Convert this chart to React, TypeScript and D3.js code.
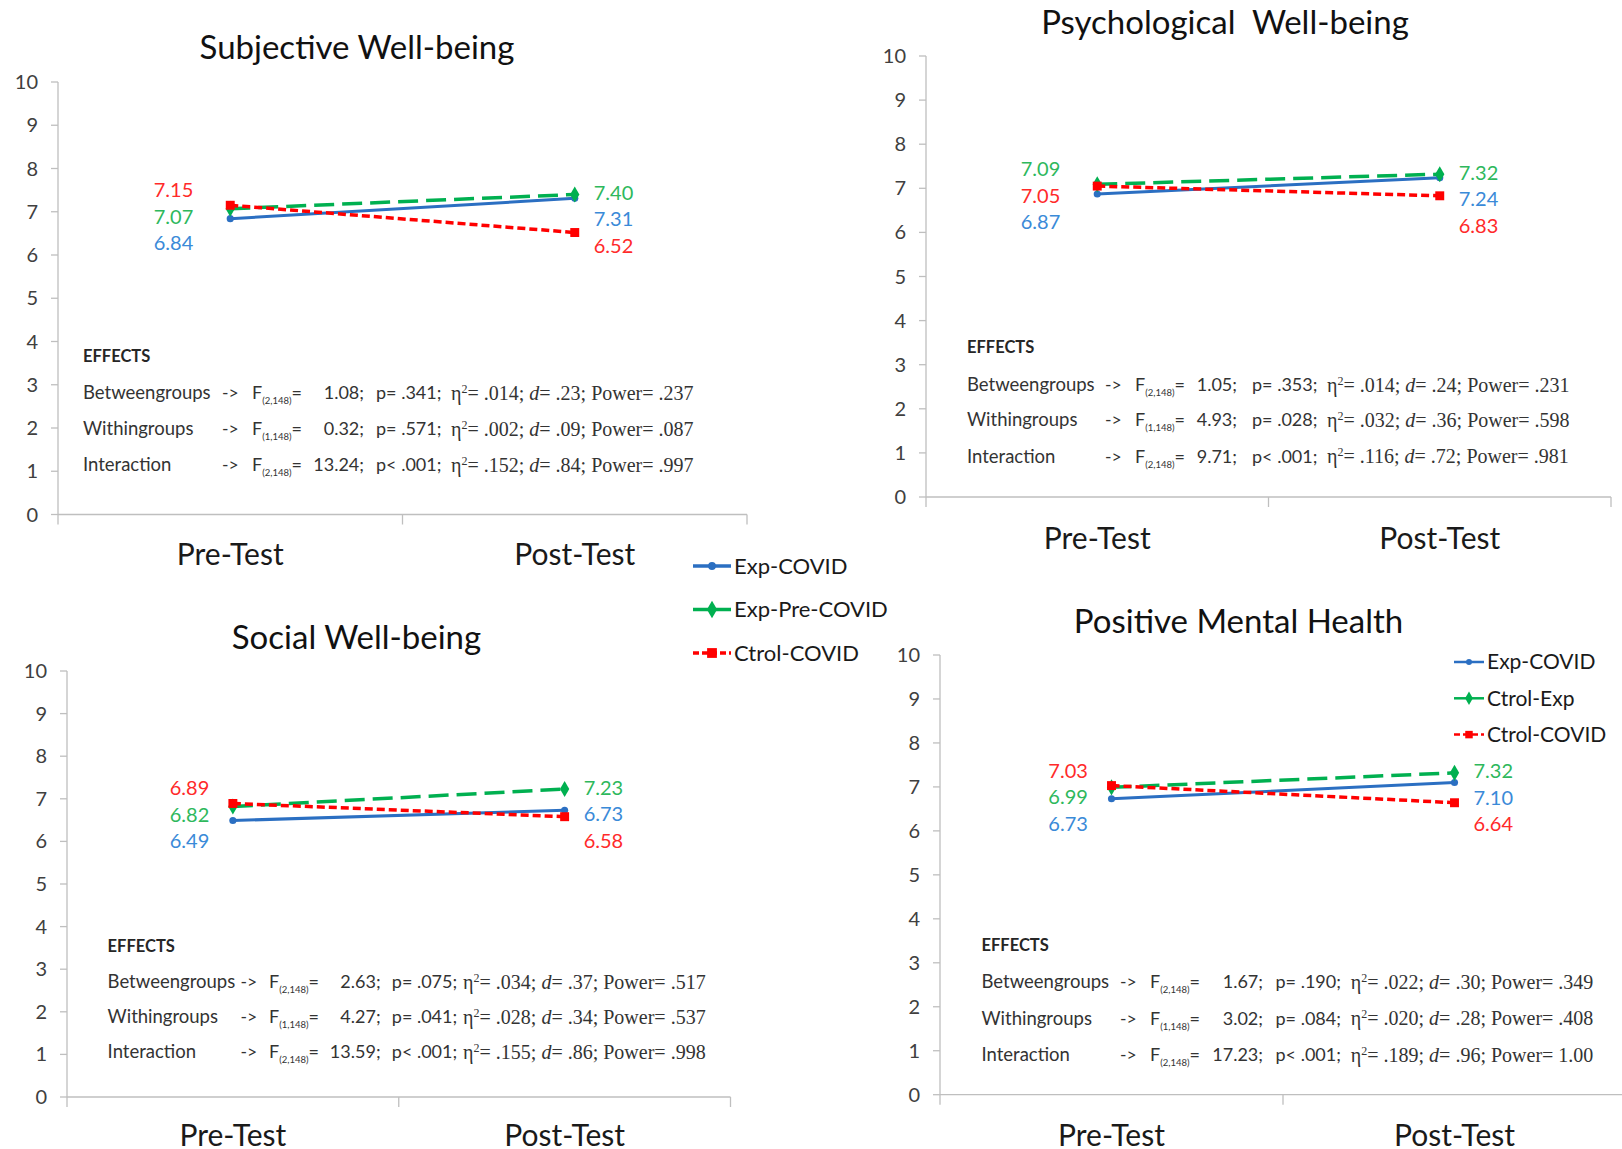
import React from 'react';
import * as d3 from 'd3';

const categories = ['Pre-Test', 'Post-Test'];
const legendNames = ['Exp-COVID', 'Exp-Pre-COVID', 'Ctrol-COVID'];
const pmhLegendNames = ['Exp-COVID', 'Ctrol-Exp', 'Ctrol-COVID'];

// rows = series (Exp-COVID, Exp/Ctrol, Ctrol-COVID), cols = Pre, Post
const subjectiveValues = [[6.84, 7.31], [7.07, 7.40], [7.15, 6.52]];
const psychologicalValues = [[6.87, 7.24], [7.09, 7.32], [7.05, 6.83]];
const socialValues = [[6.49, 6.73], [6.82, 7.23], [6.89, 6.58]];
const mentalHealthValues = [[6.73, 7.10], [6.99, 7.32], [7.03, 6.64]];

const effectNames = ['Betweengroups', 'Withingroups', 'Interaction'];
const effectDf = ['2,148', '1,148', '2,148'];
// F, p, eta2, d, power
const subjectiveEffects = [
  ['1.08', 'p= .341', '.014', '.23', '.237'],
  ['0.32', 'p= .571', '.002', '.09', '.087'],
  ['13.24', 'p< .001', '.152', '.84', '.997'],
];
const psychologicalEffects = [
  ['1.05', 'p= .353', '.014', '.24', '.231'],
  ['4.93', 'p= .028', '.032', '.36', '.598'],
  ['9.71', 'p< .001', '.116', '.72', '.981'],
];
const socialEffects = [
  ['2.63', 'p= .075', '.034', '.37', '.517'],
  ['4.27', 'p= .041', '.028', '.34', '.537'],
  ['13.59', 'p< .001', '.155', '.86', '.998'],
];
const mentalHealthEffects = [
  ['1.67', 'p= .190', '.022', '.30', '.349'],
  ['3.02', 'p= .084', '.020', '.28', '.408'],
  ['17.23', 'p< .001', '.189', '.96', '1.00'],
];

const SANS = 'Lato, Carlito, "Open Sans", sans-serif';
const SERIF = '"Liberation Serif", "DejaVu Serif", serif';

const seriesStyle = [
  { line: '#2B6FC2', label: '#3A8AD8', dash: undefined, width: 3, symbol: d3.symbolCircle, size: 40 },
  { line: '#00B050', label: '#2EB85C', dash: '20 8', width: 3.5, symbol: d3.symbolDiamond, size: 75 },
  { line: '#FF0000', label: '#FF2A2A', dash: '8 4', width: 3.5, symbol: d3.symbolSquare, size: 80 },
];

const charts = [
  {
    title: 'Subjective Well-being', values: subjectiveValues, effects: subjectiveEffects,
    left: 58, right: 747, y0: 514.5, y10: 82, titleX: 357, titleY: 59, catY: 565, labelGap: 37,
    effX: 83, effY: 356, rowY: [393, 428.6, 465], arrow: 139, fOff: 169, numEnd: 112, pOff: 124, etaOff: 199,
  },
  {
    title: 'Psychological\u00a0 Well-being', values: psychologicalValues, effects: psychologicalEffects,
    left: 926, right: 1611, y0: 497, y10: 56, titleX: 1225, titleY: 34, catY: 549, labelGap: 37,
    effX: 967, effY: 347, rowY: [384.6, 420, 456.4], arrow: 138, fOff: 168, numEnd: 102, pOff: 117, etaOff: 192,
  },
  {
    title: 'Social Well-being', values: socialValues, effects: socialEffects,
    left: 67, right: 730.5, y0: 1097, y10: 671, titleX: 356.5, titleY: 649, catY: 1146, labelGap: 23.6,
    effX: 107.6, effY: 946, rowY: [981.6, 1016.7, 1051.7], arrow: 133, fOff: 161.5, numEnd: 111.5, pOff: 122.7, etaOff: 194,
  },
  {
    title: 'Positive Mental Health', values: mentalHealthValues, effects: mentalHealthEffects,
    left: 940, right: 1626, y0: 1094.7, y10: 655, titleX: 1238.5, titleY: 633, catY: 1146, labelGap: 23.6,
    effX: 981.5, effY: 945, rowY: [981.6, 1018.4, 1054.5], arrow: 138.5, fOff: 168.5, numEnd: 113, pOff: 125.5, etaOff: 200.8,
  },
];

function Chart({ c }: { c: any }) {
  const x = d3.scaleBand().domain(categories).range([c.left, c.right]);
  const cx = (k: string) => (x(k) as number) + x.bandwidth() / 2;
  const y = d3.scaleLinear().domain([0, 10]).range([c.y0, c.y10]);
  const line = d3.line<number>().x((_, i) => cx(categories[i])).y(d => y(d));
  const xTicks = [c.left, ...categories.slice(1).map(k => x(k) as number), c.right];

  const labels: any[] = [];
  categories.forEach((cat, ci) => {
    const order = d3.range(c.values.length).sort((a, b) => c.values[b][ci] - c.values[a][ci]);
    const top = y(c.values[order[0]][ci]) + (ci === 0 ? -15 : -1.5);
    order.forEach((si, rank) => {
      labels.push(
        <text key={`l${ci}-${si}`} x={ci === 0 ? cx(cat) - c.labelGap : cx(cat) + 19} y={top + rank * 26.5}
          dy="0.35em" textAnchor={ci === 0 ? 'end' : 'start'} fontFamily={SANS} fontSize={20}
          fill={seriesStyle[si].label}>{c.values[si][ci].toFixed(2)}</text>
      );
    });
  });

  return (
    <g>
      <text x={c.titleX} y={c.titleY} textAnchor="middle" fontFamily={SANS} fontSize={33} fill="#111">{c.title}</text>
      <line x1={c.left} x2={c.left} y1={c.y10} y2={c.y0} stroke="#bfbfbf" strokeWidth={1.3} />
      {y.ticks(10).map(t => (
        <g key={t}>
          <line x1={c.left - 7} x2={c.left} y1={y(t)} y2={y(t)} stroke="#bfbfbf" strokeWidth={1.3} />
          <text x={c.left - 20} y={y(t)} dy="0.35em" textAnchor="end" fontFamily={SANS} fontSize={20} fill="#404040">{t}</text>
        </g>
      ))}
      <line x1={c.left} x2={c.right} y1={c.y0} y2={c.y0} stroke="#bfbfbf" strokeWidth={1.3} />
      {xTicks.map((t, i) => (
        <line key={i} x1={t} x2={t} y1={c.y0} y2={c.y0 + 10} stroke="#bfbfbf" strokeWidth={1.3} />
      ))}
      {categories.map(k => (
        <text key={k} x={cx(k)} y={c.catY} textAnchor="middle" fontFamily={SANS} fontSize={30} fill="#1a1a1a">{k}</text>
      ))}
      <text x={c.effX} y={c.effY} dy="0.35em" fontFamily={SANS} fontWeight="bold" fontSize={16.5} fill="#262626">EFFECTS</text>
      {c.effects.map((r: string[], i: number) => {
        const fx = c.effX + c.fOff;
        const ry = c.rowY[i];
        return (
          <g key={i} fill="#333">
            <text x={c.effX} y={ry} dy="0.35em" fontFamily={SANS} fontSize={18.5}>{effectNames[i]}</text>
            <text x={c.effX + c.arrow} y={ry} dy="0.35em" fontFamily={SANS} fontSize={17.5}>-&gt;</text>
            <text x={fx} y={ry} dy="0.35em" fontFamily={SANS} fontSize={18}>
              F<tspan fontSize={9.5} dy={5}>({effectDf[i]})</tspan><tspan dy={-5}>=</tspan>
            </text>
            <text x={fx + c.numEnd} y={ry} dy="0.35em" textAnchor="end" fontFamily={SANS} fontSize={18}>{r[0]};</text>
            <text x={fx + c.pOff} y={ry} dy="0.35em" fontFamily={SANS} fontSize={18}>{r[1]};</text>
            <text x={fx + c.etaOff} y={ry} dy="0.35em" fontFamily={SERIF} fontSize={20} style={{ whiteSpace: 'pre' }}>
              <tspan>η</tspan>
              <tspan fontSize={12} dy={-7}>2</tspan>
              <tspan dy={7}>{`= ${r[2]}; `}</tspan>
              <tspan fontStyle="italic">d</tspan>
              <tspan>{`= ${r[3]}; Power= ${r[4]}`}</tspan>
            </text>
          </g>
        );
      })}
      {c.values.map((vals: number[], si: number) => {
        const s = seriesStyle[si];
        const sym = d3.symbol().type(s.symbol).size(s.size)();
        return (
          <g key={si}>
            <path d={line(vals) as string} fill="none" stroke={s.line} strokeWidth={s.width} strokeDasharray={s.dash} />
            {vals.map((v, i) => (
              <path key={i} d={sym as string} transform={`translate(${cx(categories[i])},${y(v)})`} fill={s.line} />
            ))}
          </g>
        );
      })}
      {labels}
    </g>
  );
}

function Legend({ names, x, y, gap, len, lw, scale, fontSize }: any) {
  return (
    <g>
      {names.map((n: string, i: number) => {
        const s = seriesStyle[i];
        const yy = y + i * gap;
        const sym = d3.symbol().type(s.symbol).size(s.size * scale)();
        return (
          <g key={n}>
            <line x1={x} x2={x + len} y1={yy} y2={yy} stroke={s.line} strokeWidth={lw}
              strokeDasharray={s.dash ? (i === 2 ? '6 3' : undefined) : undefined} />
            <path d={sym as string} transform={`translate(${x + len / 2},${yy})`} fill={s.line} />
            <text x={x + len + 3} y={yy} dy="0.35em" fontFamily={SANS} fontSize={fontSize} fill="#1a1a1a">{n}</text>
          </g>
        );
      })}
    </g>
  );
}

export default function App() {
  return (
    <svg width={1622} height={1149} style={{ position: 'absolute', left: 0, top: 0, background: '#fff' }}>
      {charts.map(c => <Chart key={c.title} c={c} />)}
      <Legend names={legendNames} x={693} y={566} gap={43.5} len={38} lw={3.5} scale={1.2} fontSize={22} />
      <Legend names={pmhLegendNames} x={1454} y={662} gap={36.3} len={30} lw={2.5} scale={0.7} fontSize={21} />
    </svg>
  );
}
